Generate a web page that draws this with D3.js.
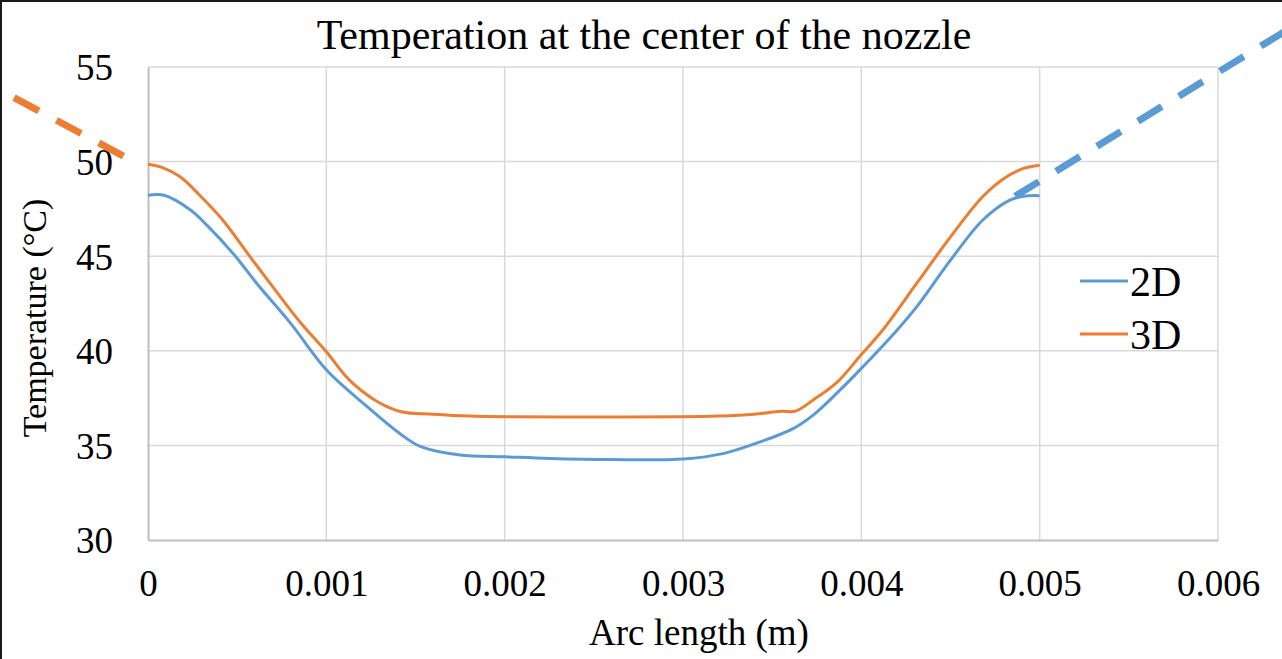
<!DOCTYPE html>
<html>
<head>
<meta charset="utf-8">
<script src="https://cdn.jsdelivr.net/npm/d3@7"></script>
<style>
  body { margin: 0; background: #fff; }
  svg { display: block; }
  text { font-family: "Liberation Serif", "Times New Roman", serif; fill: #000; }
</style>
</head>
<body>
<svg id="chart" width="1282" height="659"></svg>
<script>
// Data: arc length (m) vs temperature (°C)
var series2D = [
  [0, 48.22], [0.00009, 48.22], [0.00024, 47.43], [0.00033, 46.64], [0.00049, 45.0],
  [0.00061, 43.56], [0.0008, 41.45], [0.001, 39.0], [0.00123, 37.04], [0.00141, 35.64],
  [0.00153, 34.93], [0.00175, 34.49], [0.002, 34.4], [0.00225, 34.31], [0.0026, 34.25],
  [0.003, 34.28], [0.00323, 34.58], [0.00341, 35.11], [0.00362, 35.9], [0.00373, 36.6],
  [0.00388, 37.92], [0.004, 39.07], [0.0042, 41.09], [0.00431, 42.32], [0.0045, 44.79],
  [0.00468, 46.9], [0.00483, 47.95], [0.00491, 48.17], [0.005, 48.2]
];
var series3D = [
  [0, 49.86], [0.00007, 49.72], [0.00018, 49.2], [0.00029, 48.22], [0.00042, 46.9],
  [0.00057, 45.0], [0.0007, 43.38], [0.00085, 41.55], [0.001, 39.95], [0.00113, 38.45],
  [0.00128, 37.35], [0.00142, 36.78], [0.0016, 36.65], [0.0018, 36.55], [0.002, 36.51],
  [0.0025, 36.5], [0.003, 36.51], [0.0032, 36.55], [0.0034, 36.65], [0.00355, 36.8],
  [0.00363, 36.81], [0.00373, 37.4], [0.00386, 38.3], [0.004, 39.8], [0.00412, 41.1],
  [0.00431, 43.56], [0.0045, 46.02], [0.00468, 48.14], [0.0048, 49.11], [0.00491, 49.64],
  [0.005, 49.81]
];
// the two dashed pointer lines that run out of the plot
var pointer3D = [[-0.000751, 53.38], [-0.000112, 50.16]];
var pointer2D = [[0.004862, 48.17], [0.0065, 57.6]];

var xTicks = [0, 0.001, 0.002, 0.003, 0.004, 0.005, 0.006];
var yTicks = [30, 35, 40, 45, 50, 55];
var legendNames = ["2D", "3D"];
var colors = ["#5b9bd5", "#ed7d31"];

var svg = d3.select("#chart");
var plotLeft = 148, plotRight = 1218, plotTop = 67, plotBottom = 540;

var x = d3.scaleLinear().domain([0, 0.006]).range([plotLeft, plotRight]);
var y = d3.scaleLinear().domain([30, 55]).range([plotBottom, plotTop]);

// outer frame (only top & left edges show in the picture)
svg.append("rect")
  .attr("x", 1).attr("y", 1).attr("width", 1300).attr("height", 700)
  .style("fill", "none").style("stroke", "#1a1a1a").style("stroke-width", 2);

// gridlines
svg.append("g").selectAll("line")
  .data(xTicks.slice(1))
  .enter().append("line")
    .attr("x1", function(d) { return x(d); }).attr("x2", function(d) { return x(d); })
    .attr("y1", plotTop).attr("y2", plotBottom)
    .style("stroke", "#d9d9d9").style("stroke-width", 1.5);
svg.append("g").selectAll("line")
  .data(yTicks.slice(1))
  .enter().append("line")
    .attr("x1", plotLeft).attr("x2", plotRight)
    .attr("y1", function(d) { return y(d); }).attr("y2", function(d) { return y(d); })
    .style("stroke", "#d9d9d9").style("stroke-width", 1.5);

// axes
var xAxis = svg.append("g")
  .attr("transform", "translate(0," + plotBottom + ")")
  .call(d3.axisBottom(x).tickValues(xTicks).tickSize(0).tickPadding(30)
    .tickFormat(function(d) { return d === 0 ? "0" : d3.format(".3f")(d); }));
var yAxis = svg.append("g")
  .attr("transform", "translate(" + plotLeft + ",0)")
  .call(d3.axisLeft(y).tickValues(yTicks).tickSize(0).tickPadding(35));
[xAxis, yAxis].forEach(function(g) {
  g.select(".domain").style("stroke", "#bfbfbf").style("stroke-width", 2);
  g.selectAll("text")
    .style("font-size", "37px")
    .style("font-family", "Liberation Serif, serif")
    .attr("fill", "#000");
});
yAxis.selectAll("text").attr("dy", "0.35em");

// series (smoothed like the spreadsheet lines)
var line = d3.line()
  .x(function(d) { return x(d[0]); })
  .y(function(d) { return y(d[1]); })
  .curve(d3.curveCatmullRom.alpha(0.5));

[series2D, series3D].forEach(function(s, i) {
  svg.append("path")
    .datum(s)
    .attr("d", line)
    .style("fill", "none")
    .style("stroke", colors[i])
    .style("stroke-width", 3)
    .style("stroke-linejoin", "round");
});

// dashed pointers
var straight = d3.line()
  .x(function(d) { return x(d[0]); })
  .y(function(d) { return y(d[1]); });
[pointer2D, pointer3D].forEach(function(p, i) {
  svg.append("path")
    .datum(p)
    .attr("d", straight)
    .style("fill", "none")
    .style("stroke", colors[i])
    .style("stroke-width", 7)
    .style("stroke-dasharray", "28,20");
});

// legend
var legend = svg.append("g").selectAll("g")
  .data(legendNames)
  .enter().append("g")
    .attr("transform", function(d, i) { return "translate(1080," + (281 + i * 53) + ")"; });
legend.append("line")
  .attr("x1", 0).attr("x2", 48)
  .style("stroke", function(d, i) { return colors[i]; })
  .style("stroke-width", 3);
legend.append("text")
  .attr("x", 50).attr("dy", "0.35em")
  .style("font-size", "42px")
  .text(function(d) { return d; });

// titles
svg.append("text")
  .attr("x", 644).attr("y", 49)
  .attr("text-anchor", "middle")
  .style("font-size", "42px")
  .text("Temperation at the center of the nozzle");
svg.append("text")
  .attr("x", 699).attr("y", 645)
  .attr("text-anchor", "middle")
  .style("font-size", "37px")
  .text("Arc length (m)");
svg.append("text")
  .attr("transform", "translate(46,318) rotate(-90)")
  .attr("text-anchor", "middle")
  .style("font-size", "34px")
  .text("Temperature (°C)");
</script>
</body>
</html>
